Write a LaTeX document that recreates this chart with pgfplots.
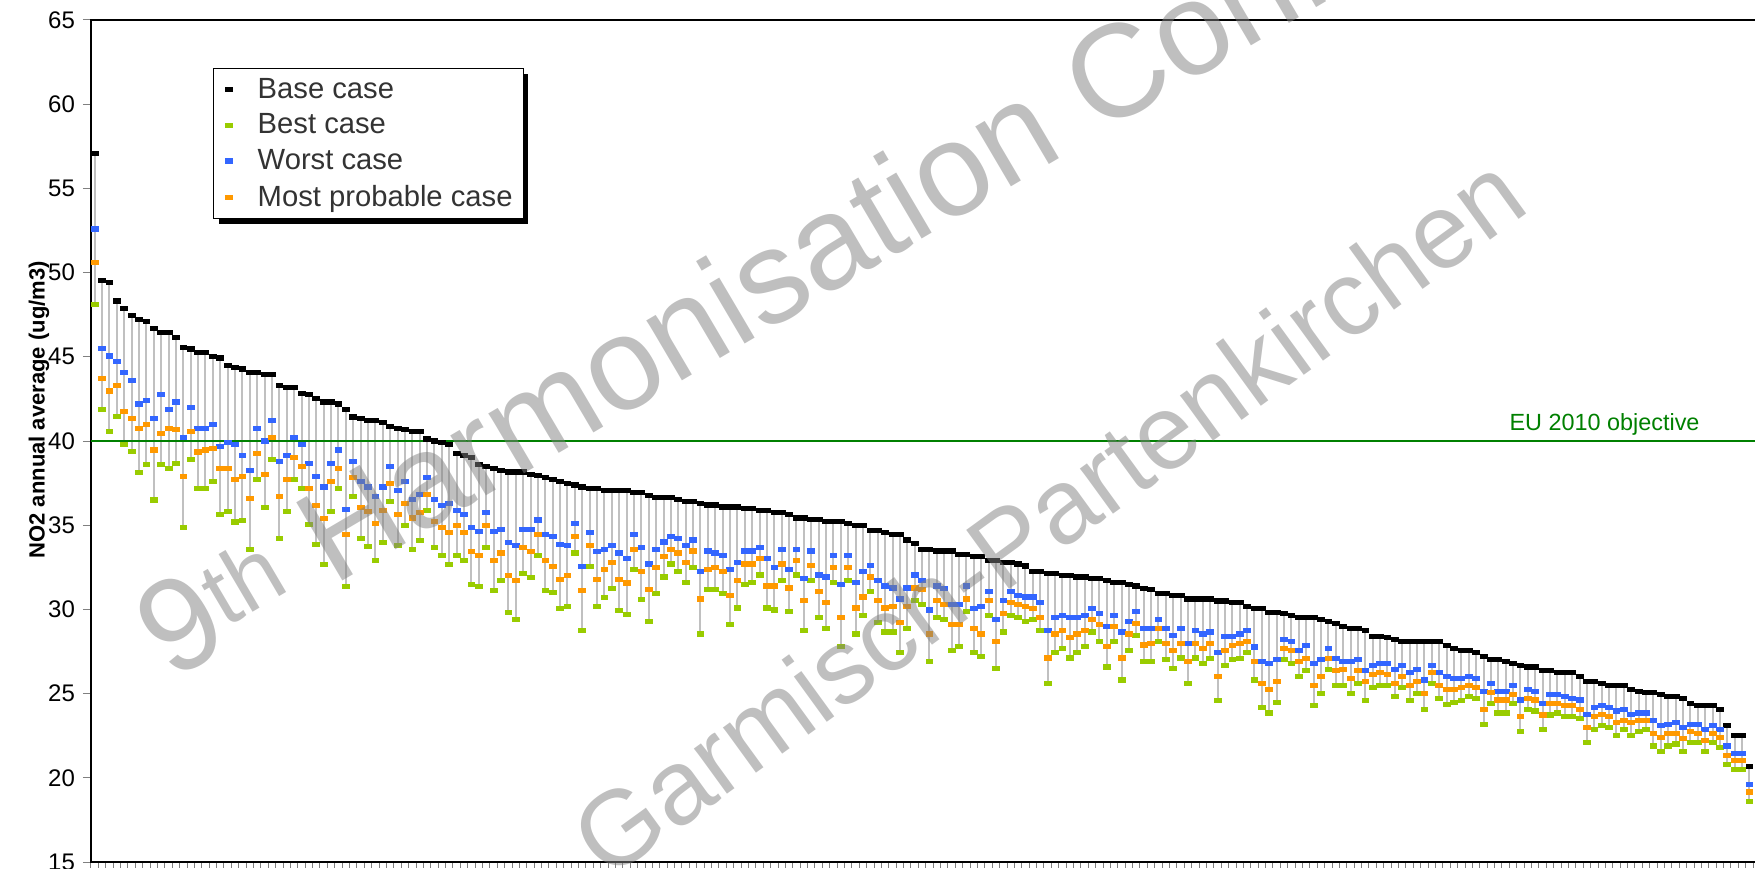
\documentclass[border=0pt]{standalone}
\usepackage{fontspec}
\setmainfont{Liberation Sans}
\usepackage{pgfplots}
\pgfplotsset{compat=1.18}
\usepackage{pgfplotstable}
\usetikzlibrary{shadows}

\definecolor{basecol}{RGB}{0,0,0}
\definecolor{bestcol}{RGB}{153,204,0}
\definecolor{worstcol}{RGB}{51,102,255}
\definecolor{probcol}{RGB}{255,153,0}
\definecolor{eugreen}{RGB}{0,128,0}
\definecolor{stemgray}{RGB}{192,192,192}

% NO2 annual averages per station (ug/m3), stations sorted by base case
\pgfplotstableread{
i base worst prob best
0 57.07 52.60 50.60 48.10
1 49.54 45.49 43.74 41.86
2 49.43 45.05 42.97 40.55
3 48.32 44.71 43.29 41.45
4 47.88 44.06 41.74 39.80
5 47.45 43.62 41.33 39.37
6 47.23 42.20 40.77 38.14
7 47.10 42.42 40.99 38.60
8 46.67 41.33 39.47 36.50
9 46.46 42.75 40.46 38.60
10 46.46 41.86 40.77 38.38
11 46.14 42.32 40.67 38.69
12 45.58 40.22 37.92 34.87
13 45.47 41.98 40.55 38.91
14 45.25 40.77 39.35 37.17
15 45.25 40.77 39.47 37.17
16 45.03 40.99 39.56 37.60
17 44.93 39.68 38.36 35.62
18 44.50 39.90 38.36 35.84
19 44.38 39.78 37.70 35.19
20 44.28 39.13 37.92 35.29
21 44.06 38.26 36.61 33.54
22 44.06 40.77 39.25 37.70
23 43.96 40.00 38.04 36.06
24 43.96 41.21 40.22 38.91
25 43.29 38.81 36.71 34.20
26 43.19 39.13 37.70 35.84
27 43.19 40.22 39.03 37.70
28 42.85 39.78 38.48 37.17
29 42.75 38.69 37.17 35.07
30 42.53 37.92 36.18 33.88
31 42.32 37.27 35.41 32.67
32 42.32 38.69 37.60 35.84
33 42.20 39.47 38.36 37.17
34 41.86 35.96 34.44 31.37
35 41.43 38.81 37.82 36.71
36 41.33 37.60 36.06 34.20
37 41.21 37.27 35.84 33.76
38 41.21 36.73 35.09 32.89
39 41.09 37.27 35.86 34.00
40 40.89 38.48 37.49 36.40
41 40.77 37.05 35.64 33.78
42 40.67 37.60 36.30 34.99
43 40.55 36.51 35.43 33.56
44 40.55 36.83 35.76 34.10
45 40.12 37.82 36.83 35.86
46 40.00 36.51 35.21 33.66
47 39.90 36.18 34.87 33.23
48 39.80 36.30 34.55 32.67
49 39.25 35.86 34.99 33.23
50 39.13 35.64 34.55 32.89
51 39.03 34.87 33.45 31.47
52 38.59 34.65 33.23 31.37
53 38.48 35.74 34.99 33.66
54 38.38 34.65 32.89 31.15
55 38.26 34.77 33.35 31.70
56 38.16 34.00 32.02 29.84
57 38.16 33.78 31.70 29.39
58 38.16 34.77 33.66 32.14
59 38.04 34.77 33.45 31.92
60 37.94 35.31 34.44 33.23
61 37.82 34.44 32.91 31.15
62 37.70 34.34 32.57 31.03
63 37.60 33.88 31.80 30.06
64 37.49 33.78 32.02 30.16
65 37.39 35.09 34.34 33.35
66 37.27 32.57 31.15 28.75
67 37.17 34.55 33.78 32.57
68 37.17 33.45 31.80 30.16
69 37.05 33.56 32.36 30.71
70 37.05 33.78 32.79 31.27
71 37.05 33.35 31.80 29.94
72 37.05 33.01 31.58 29.72
73 36.95 34.44 33.56 32.36
74 36.95 33.66 32.24 30.59
75 36.78 32.70 31.20 29.31
76 36.64 33.57 32.48 30.96
77 36.64 34.01 33.14 31.93
78 36.64 34.34 33.57 32.70
79 36.52 34.22 33.35 32.26
80 36.42 33.79 32.80 31.61
81 36.42 34.13 33.47 32.48
82 36.30 32.26 30.62 28.54
83 36.20 33.47 32.38 31.18
84 36.20 33.35 32.48 31.18
85 36.09 33.23 32.26 30.96
86 36.09 32.38 30.84 29.10
87 36.09 32.80 31.73 30.09
88 35.99 33.47 32.70 31.49
89 35.99 33.47 32.70 31.61
90 35.87 33.69 33.04 32.05
91 35.87 33.04 31.39 30.09
92 35.77 32.48 31.39 29.97
93 35.77 33.57 32.70 31.73
94 35.65 32.38 31.28 29.87
95 35.43 33.57 32.92 32.05
96 35.43 31.83 30.52 28.76
97 35.33 33.47 32.60 31.73
98 35.33 32.05 31.06 29.53
99 35.21 31.93 30.40 28.88
100 35.21 33.23 32.48 31.61
101 35.21 31.49 29.53 27.79
102 35.12 33.23 32.48 31.73
103 35.00 31.61 30.09 28.54
104 35.00 32.26 30.74 29.65
105 34.68 32.60 31.93 31.06
106 34.68 31.73 30.52 29.22
107 34.56 31.39 30.09 28.66
108 34.46 31.28 30.19 28.66
109 34.46 30.62 29.22 27.45
110 34.13 31.28 30.19 28.88
111 33.91 32.05 31.28 30.52
112 33.57 31.73 31.18 30.31
113 33.57 29.97 28.54 26.92
114 33.47 31.39 30.52 29.53
115 33.47 31.27 30.30 29.41
116 33.47 30.30 29.09 27.57
117 33.25 30.30 29.09 27.79
118 33.25 31.39 30.62 29.87
119 33.13 30.08 28.88 27.45
120 33.13 30.18 28.54 27.23
121 32.91 31.05 30.52 29.63
122 32.91 29.41 28.10 26.48
123 32.80 30.52 29.75 28.66
124 32.80 31.05 30.40 29.63
125 32.70 30.84 30.30 29.53
126 32.58 30.74 30.18 29.31
127 32.26 30.74 30.08 29.41
128 32.26 30.40 29.53 28.76
129 32.14 28.76 27.12 25.61
130 32.14 29.53 28.54 27.45
131 32.04 29.63 28.76 27.67
132 32.04 29.53 28.32 27.12
133 31.93 29.53 28.54 27.45
134 31.93 29.63 28.76 27.79
135 31.83 30.08 29.41 28.66
136 31.83 29.75 29.09 28.10
137 31.71 28.98 27.79 26.58
138 31.61 29.63 28.98 28.10
139 31.61 28.66 27.12 25.81
140 31.49 29.31 28.54 27.57
141 31.39 29.87 29.19 28.44
142 31.27 28.88 27.89 26.92
143 31.17 28.88 28.00 26.92
144 30.96 29.41 28.88 28.10
145 30.96 28.88 28.00 27.02
146 30.84 28.44 27.57 26.48
147 30.84 28.88 28.00 27.12
148 30.62 28.00 26.92 25.61
149 30.62 28.76 28.00 27.12
150 30.62 28.54 27.67 26.80
151 30.62 28.66 27.98 27.11
152 30.50 27.45 26.02 24.60
153 30.50 28.42 27.55 26.68
154 30.40 28.42 27.88 27.01
155 30.40 28.54 27.98 27.11
156 30.18 28.75 28.10 27.45
157 30.06 27.77 26.89 25.81
158 30.06 26.89 25.59 24.16
159 29.84 26.80 25.25 23.85
160 29.84 27.01 25.71 24.50
161 29.74 28.20 27.67 27.01
162 29.63 28.10 27.55 26.80
163 29.53 27.55 26.89 26.02
164 29.53 27.88 27.11 26.36
165 29.53 26.80 25.49 24.28
166 29.41 27.01 26.02 25.03
167 29.31 27.67 27.11 26.46
168 29.19 27.11 26.36 25.49
169 28.97 26.89 26.46 25.49
170 28.87 26.89 25.92 25.03
171 28.87 27.01 26.36 25.59
172 28.75 26.36 25.71 24.60
173 28.42 26.68 26.14 25.37
174 28.42 26.80 26.24 25.49
175 28.32 26.80 26.14 25.49
176 28.20 26.46 25.59 24.82
177 28.10 26.68 26.02 25.37
178 28.10 26.24 25.49 24.60
179 28.10 26.46 25.71 25.03
180 28.10 25.81 25.03 24.06
181 28.10 26.68 26.24 25.59
182 28.10 26.24 25.49 24.72
183 27.88 26.02 25.25 24.38
184 27.67 25.92 25.25 24.50
185 27.55 25.92 25.37 24.60
186 27.55 26.02 25.49 24.82
187 27.45 25.92 25.37 24.72
188 27.23 25.15 24.06 23.19
189 27.01 25.59 25.05 24.40
190 27.01 25.15 24.62 23.85
191 26.90 25.15 24.62 23.85
192 26.80 25.49 24.94 24.40
193 26.68 24.62 23.63 22.76
194 26.58 25.27 24.72 24.06
195 26.58 25.15 24.62 23.97
196 26.36 24.40 23.73 22.88
197 26.36 24.94 24.40 23.73
198 26.24 24.94 24.40 23.85
199 26.24 24.84 24.28 23.63
200 26.24 24.72 24.28 23.63
201 26.02 24.62 24.06 23.53
202 25.71 23.75 22.98 22.11
203 25.71 24.18 23.63 22.88
204 25.59 24.28 23.75 23.09
205 25.49 24.18 23.63 22.98
206 25.49 23.97 23.31 22.54
207 25.49 24.06 23.41 22.88
208 25.27 23.75 23.31 22.54
209 25.15 23.85 23.41 22.76
210 25.05 23.85 23.41 22.88
211 25.05 23.41 22.64 21.89
212 24.94 23.09 22.42 21.57
213 24.84 23.19 22.64 21.89
214 24.84 23.31 22.64 22.01
215 24.72 22.98 22.32 21.57
216 24.40 23.19 22.76 22.11
217 24.28 23.19 22.64 22.11
218 24.28 22.88 22.22 21.57
219 24.28 23.09 22.64 22.11
220 24.06 22.88 22.42 21.79
221 23.09 21.89 21.35 20.80
222 22.54 21.45 21.02 20.48
223 22.54 21.45 21.02 20.48
224 20.68 19.59 19.16 18.62
}\stations

\pgfplotsset{
  stationmark/.style={only marks, mark=square*, mark size=1.7pt,
    mark options={draw=none, fill=#1, yscale=0.62}, color=#1},
}

\begin{document}
\begin{tikzpicture}
% page extent: the plot area's right side runs past the page edge
\useasboundingbox (-45.49pt,-3pt) rectangle (832.0pt,431pt);
\begin{axis}[
  scale only axis,
  width=834.75pt, height=421pt,
  xmin=-0.5, xmax=225.5,
  ymin=15, ymax=65,
  ytick={15,20,...,65},
  xtick={-0.5,0.5,...,225.5},
  xticklabels={},
  tick pos=left,
  tick align=outside,
  major tick length=4pt,
  xtick style={/pgfplots/major tick length=2.8pt, line width=0.5pt},
  ytick style={line width=0.5pt},
  axis line style={line width=0.6pt},
  /pgf/number format/assume math mode=true,
  yticklabel style={font=\fontsize{12}{14}\selectfont, xshift=-0.5pt},
  ylabel={NO2 annual average (ug/m3)},
  ylabel style={font=\bfseries\fontsize{11}{13}\selectfont,
    at={(axis description cs:-0.0311,0.537)}, anchor=center},
  clip=false,
  legend cell align=left,
  legend image code/.code={%
    \path (-4pt,0pt) (12.3pt,0pt);
    \draw[mark repeat=2,mark phase=2] plot coordinates {(-1pt,0pt) (0pt,0pt) (1pt,0pt)};},
  legend style={at={(0.0731,0.943)}, anchor=north west,
    draw=black, line width=0.5pt, fill=white,
    drop shadow={shadow xshift=2.6pt, shadow yshift=-2.6pt, fill=black, opacity=1},
    font=\fontsize{14.6}{17}\selectfont, text=black!80,
    inner xsep=3.3pt, inner ysep=2.8pt, row sep=2.3pt},
]
% stems from the base case down to the best case
\addplot[forget plot, draw=none, mark=none,
  error bars/.cd, y dir=minus, y explicit, error mark=none,
  error bar style={draw=stemgray, line width=1pt, solid}]
  table[x=i, y=base, y error minus expr=\thisrow{base}-\thisrow{best}] {\stations};
% EU limit value
\addplot[forget plot, eugreen, line width=1pt, mark=none]
  coordinates {(-0.5,40) (225.5,40)};
\node[anchor=base east, text=eugreen, font=\fontsize{11.7}{13}\selectfont,
  inner sep=0pt] at (axis cs:217.3,40.6) {EU 2010 objective};

\addplot[stationmark=basecol] table[x=i, y=base] {\stations};
\addlegendentry{Base case}
\addplot[stationmark=bestcol] table[x=i, y=best] {\stations};
\addlegendentry{Best case}
\addplot[stationmark=worstcol] table[x=i, y=worst] {\stations};
\addlegendentry{Worst case}
\addplot[stationmark=probcol] table[x=i, y=prob] {\stations};
\addlegendentry{Most probable case}
\end{axis}
% conference watermark
\begin{scope}[every node/.style={text=gray, text opacity=0.5, inner sep=0pt}]
\node[rotate=30.5, anchor=base west, font=\fontsize{66}{66}\selectfont]
  at (40pt,90pt) {9\textsuperscript{th} Harmonisation Conference};
\node[rotate=36, anchor=base west, font=\fontsize{53}{53}\selectfont]
  at (258pt,-10pt) {Garmisch-Partenkirchen};
\end{scope}
\end{tikzpicture}
\end{document}
